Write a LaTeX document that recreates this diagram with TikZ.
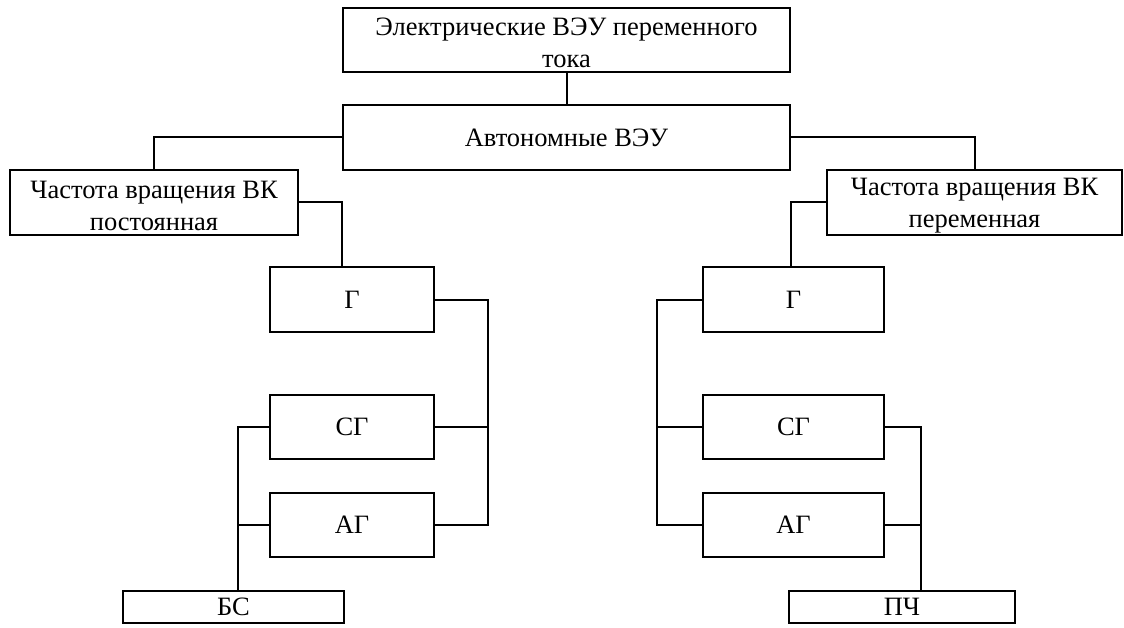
\documentclass[tikz,border=0pt]{standalone}
\usepackage{fontspec}
\setmainfont{Liberation Serif}
\begin{document}
\begin{tikzpicture}[x=1pt,y=-1pt,
  box/.style={draw, line width=2pt, inner sep=0pt, align=center,
    font=\fontsize{26.5}{32}\selectfont},
  twoline/.style={text height=56pt},
  wire/.style={line width=2pt}]
\useasboundingbox (0,0) rectangle (1124,628);
\fill[white] (0,0) rectangle (1124,628);
% boxes
\node[box, twoline, minimum width=447pt, minimum height=64pt] (top) at (566.5,40)
  {Электрические ВЭУ переменного\\тока};
\node[box, minimum width=447pt, minimum height=65pt] (auto) at (566.5,137.5)
  {Автономные ВЭУ};
\node[box, twoline, minimum width=288pt, minimum height=65pt] (lf) at (154,202.5)
  {Частота вращения ВК\\постоянная};
\node[box, twoline, minimum width=295pt, minimum height=65pt] (rf) at (974.5,202.5)
  {Частота вращения ВК\\переменная};
\node[box, minimum width=164pt, minimum height=65pt] (gl) at (352,299.5) {Г};
\node[box, minimum width=164pt, minimum height=64pt] (sgl) at (352,427) {СГ};
\node[box, minimum width=164pt, minimum height=64pt] (agl) at (352,525) {АГ};
\node[box, minimum width=221pt, minimum height=32pt] (bs) at (233.5,607) {БС};
\node[box, minimum width=181pt, minimum height=65pt] (gr) at (793.5,299.5) {Г};
\node[box, minimum width=181pt, minimum height=64pt] (sgr) at (793.5,427) {СГ};
\node[box, minimum width=181pt, minimum height=64pt] (agr) at (793.5,525) {АГ};
\node[box, minimum width=226pt, minimum height=32pt] (pch) at (902,607) {ПЧ};
% bus coordinates
\coordinate (lbusR) at (488,0);
\coordinate (lbusL) at (238,0);
\coordinate (rbusL) at (657,0);
\coordinate (rbusR) at (921,0);
% connectors
\draw[wire] (top) -- (auto);
\draw[wire] (auto.west) -| (lf.north);
\draw[wire] (auto.east) -| (rf.north);
\draw[wire] (lf.east) -| (gl.north -| auto.west);
\draw[wire] (rf.west) -| (gr.north -| auto.east);
% left group
\draw[wire] (gl.east) -| (lbusR |- agl.east) -- (agl.east);
\draw[wire] (sgl.east) -- (sgl.east -| lbusR);
\draw[wire] (sgl.west) -- (sgl.west -| lbusL) -- (bs.north -| lbusL);
\draw[wire] (agl.west) -- (agl.west -| lbusL);
% right group
\draw[wire] (gr.west) -| (rbusL |- agr.west) -- (agr.west);
\draw[wire] (sgr.west) -- (sgr.west -| rbusL);
\draw[wire] (sgr.east) -- (sgr.east -| rbusR) -- (pch.north -| rbusR);
\draw[wire] (agr.east) -- (agr.east -| rbusR);
\end{tikzpicture}
\end{document}
